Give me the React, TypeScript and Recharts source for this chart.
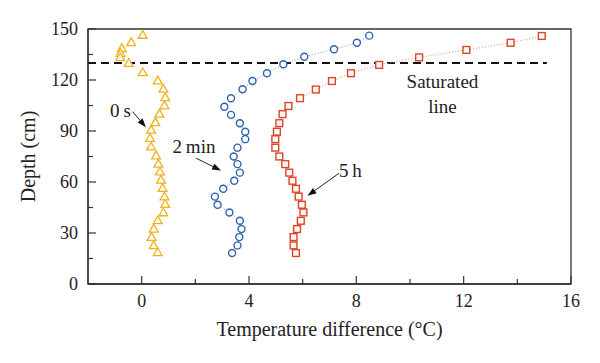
import React from 'react';
import { ScatterChart, Scatter, XAxis, YAxis, ReferenceLine, ReferenceArea, ReferenceDot } from 'recharts';

// 0 s series (triangles)
const depth0s = [146.5, 142.2, 138.7, 135.7, 133.3, 129.9, 124.5, 119.7, 114.8, 109.8, 105.0, 100.1, 95.1, 90.7, 85.8, 80.8, 75.6, 70.7, 66.1, 61.3, 56.4, 51.4, 47.0, 42.1, 37.4, 32.5, 27.6, 22.7, 18.6];
const temp0s = [0.04, -0.39, -0.74, -0.79, -0.8, -0.48, 0.04, 0.6, 0.81, 0.88, 0.85, 0.66, 0.51, 0.35, 0.31, 0.35, 0.54, 0.62, 0.68, 0.72, 0.78, 0.85, 0.88, 0.81, 0.6, 0.45, 0.37, 0.45, 0.6];

// 2 min series (circles)
const depth2min = [146.1, 141.9, 138.1, 133.7, 129.3, 124.0, 119.4, 114.6, 109.3, 104.3, 99.5, 94.6, 89.6, 85.2, 80.2, 75.0, 70.5, 65.5, 60.7, 56.0, 51.4, 46.6, 42.1, 37.2, 32.3, 27.6, 22.7, 18.2];
const temp2min = [8.48, 8.02, 7.17, 6.06, 5.28, 4.67, 4.13, 3.76, 3.33, 3.08, 3.33, 3.66, 3.86, 3.86, 3.57, 3.43, 3.57, 3.66, 3.45, 3.04, 2.73, 2.83, 3.27, 3.66, 3.72, 3.64, 3.57, 3.37];

// 5 h series (squares)
const depth5h = [145.9, 141.9, 137.7, 133.3, 128.9, 124.0, 119.4, 114.4, 109.3, 104.7, 99.9, 94.6, 89.6, 85.2, 80.2, 75.0, 70.5, 65.5, 60.7, 56.0, 51.4, 46.6, 42.1, 37.2, 32.3, 27.6, 22.7, 18.2];
const temp5h = [14.91, 13.75, 12.1, 10.34, 8.85, 7.8, 7.09, 6.49, 5.9, 5.47, 5.25, 5.13, 5.04, 4.98, 4.98, 5.13, 5.35, 5.5, 5.62, 5.75, 5.85, 5.97, 6.03, 5.93, 5.79, 5.66, 5.66, 5.75];

const xTicks = [0, 2, 4, 6, 8, 10, 12, 14, 16];
const yTicks = [0, 15, 30, 45, 60, 75, 90, 105, 120, 135, 150];
const saturatedDepth = 130;

const zip = (xs: number[], ys: number[]) => xs.map((x, i) => ({ x, y: ys[i] }));
const data0s = zip(temp0s, depth0s);
const data2min = zip(temp2min, depth2min);
const data5h = zip(temp5h, depth5h);

const FONT = '"Liberation Serif", "DejaVu Serif", serif';
const AXIS = '#333';

const C_TRI = '#EFB21F';
const C_CIR = '#2F62AE';
const C_SQ = '#DC4425';

const Triangle = (p: any) => {
  const { cx, cy } = p;
  if (cx == null || cy == null) return null;
  const s = 4.4;
  return (
    <polygon
      points={`${cx},${cy - s} ${cx - s},${cy + s * 0.75} ${cx + s},${cy + s * 0.75}`}
      fill="#fff"
      stroke={C_TRI}
      strokeWidth={1.3}
    />
  );
};
const Circle = (p: any) => {
  const { cx, cy } = p;
  if (cx == null || cy == null) return null;
  return <circle cx={cx} cy={cy} r={3.5} fill="#fff" stroke={C_CIR} strokeWidth={1.4} />;
};
const Square = (p: any) => {
  const { cx, cy } = p;
  if (cx == null || cy == null) return null;
  return <rect x={cx - 3.4} y={cy - 3.4} width={6.8} height={6.8} fill="#fff" stroke={C_SQ} strokeWidth={1.4} />;
};

const XTick = (p: any) => {
  const { x, y, payload } = p;
  const v = payload.value;
  const major = v % 4 === 0;
  return (
    <g>
      <line x1={x} y1={y} x2={x} y2={y - (major ? 8 : 5)} stroke={AXIS} strokeWidth={1.2} />
      {major && (
        <text x={x} y={y + 23} textAnchor="middle" style={{ fontFamily: FONT }} fontSize={18} fill="#222">
          {v}
        </text>
      )}
    </g>
  );
};
const YTick = (p: any) => {
  const { x, y, payload } = p;
  const v = payload.value;
  const major = v % 30 === 0;
  return (
    <g>
      <line x1={x} y1={y} x2={x + (major ? 8 : 5)} y2={y} stroke={AXIS} strokeWidth={1.2} />
      {major && (
        <text x={x - 10} y={y + 6} textAnchor="end" style={{ fontFamily: FONT }} fontSize={18} fill="#222">
          {v}
        </text>
      )}
    </g>
  );
};

const Arrow = (p: any) => {
  const { x1, y1, x2, y2 } = p;
  if ([x1, y1, x2, y2].some((v) => v == null || isNaN(v))) return null;
  const ang = Math.atan2(y2 - y1, x2 - x1);
  const L = 9, W = 3.2;
  const bx = x2 - L * Math.cos(ang), by = y2 - L * Math.sin(ang);
  const nx = -Math.sin(ang) * W, ny = Math.cos(ang) * W;
  return (
    <g>
      <line x1={x1} y1={y1} x2={bx} y2={by} stroke="#222" strokeWidth={1} />
      <polygon points={`${x2},${y2} ${bx + nx},${by + ny} ${bx - nx},${by - ny}`} fill="#111" />
    </g>
  );
};

const makeText = (txt: string) => (p: any) => {
  const { cx, cy } = p;
  if (cx == null || cy == null) return null;
  return (
    <text x={cx} y={cy} textAnchor="middle" style={{ fontFamily: FONT }} fontSize={19} fill="#222">
      {txt}
    </text>
  );
};

const annotations = [
  { text: '0\u2009s', x: -0.79, y: 98.5 },
  { text: '2\u2009min', x: 1.95, y: 77.0 },
  { text: '5\u2009h', x: 7.78, y: 63.2 },
  { text: 'Saturated', x: 11.21, y: 115.2 },
  { text: 'line', x: 11.21, y: 100.5 },
];
const arrows = [
  { x1: -0.34, y1: 101.4, x2: 0.16, y2: 92.2 },
  { x1: 2.03, y1: 74.0, x2: 2.96, y2: 66.7 },
  { x1: 7.36, y1: 65.2, x2: 6.18, y2: 51.9 },
];

export default function App() {
  return (
    <div style={{ position: 'absolute', left: 0, top: 0, background: '#fff' }}>
      <ScatterChart width={600} height={363} margin={{ top: 29, right: 29, left: 0, bottom: 0 }}>
        <XAxis
          type="number"
          dataKey="x"
          domain={[-2, 16]}
          ticks={xTicks}
          interval={0}
          allowDataOverflow
          height={79}
          tickSize={0}
          tickMargin={0}
          tickLine={false}
          tick={<XTick />}
          axisLine={{ stroke: AXIS, strokeWidth: 1.3 }}
          label={(props: any) => {
            const vb = props.viewBox || {};
            return (
              <text x={vb.x + vb.width / 2} y={336} textAnchor="middle" style={{ fontFamily: FONT }} fontSize={20} fill="#222">
                Temperature difference (°C)
              </text>
            );
          }}
        />
        <YAxis
          type="number"
          dataKey="y"
          domain={[0, 150]}
          ticks={yTicks}
          interval={0}
          allowDataOverflow
          width={88}
          tickSize={0}
          tickMargin={0}
          tickLine={false}
          tick={<YTick />}
          axisLine={{ stroke: AXIS, strokeWidth: 1.3 }}
          label={(props: any) => {
            const vb = props.viewBox || {};
            const cy = vb.y + vb.height / 2;
            return (
              <text x={28} y={cy} transform={`rotate(-90, 28, ${cy})`} textAnchor="middle" dominantBaseline="central" style={{ fontFamily: FONT }} fontSize={20} fill="#222">
                Depth (cm)
              </text>
            );
          }}
        />
        <ReferenceArea x1={-2} x2={16} y1={0} y2={150} fill="none" stroke={AXIS} strokeWidth={1.3} fillOpacity={0} />
        <ReferenceLine
          segment={[{ x: -2, y: saturatedDepth }, { x: 15.1, y: saturatedDepth }]}
          stroke="#111"
          strokeWidth={2}
          strokeDasharray="8 5"
        />
        <Scatter
          data={data0s}
          shape={<Triangle />}
          line={{ stroke: '#F3C463', strokeWidth: 1, strokeDasharray: '1 2' }}
          isAnimationActive={false}
        />
        <Scatter
          data={data2min}
          shape={<Circle />}
          line={{ stroke: '#6F95D2', strokeWidth: 1, strokeDasharray: '1 2' }}
          isAnimationActive={false}
        />
        <Scatter
          data={data5h}
          shape={<Square />}
          line={{ stroke: '#EE8A72', strokeWidth: 1, strokeDasharray: '1 2' }}
          isAnimationActive={false}
        />
        {arrows.map((a, i) => (
          <ReferenceLine key={'a' + i} segment={[{ x: a.x1, y: a.y1 }, { x: a.x2, y: a.y2 }]} shape={(p: any) => <Arrow {...p} />} />
        ))}
        {annotations.map((a, i) => (
          <ReferenceDot key={'t' + i} x={a.x} y={a.y} r={0} shape={makeText(a.text)} />
        ))}
      </ScatterChart>
    </div>
  );
}
